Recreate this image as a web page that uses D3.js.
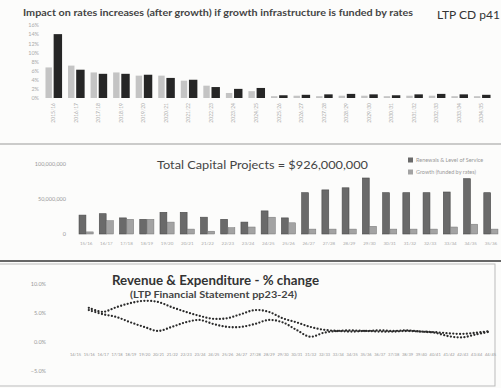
<!DOCTYPE html>
<html>
<head>
<meta charset="utf-8">
<script src="https://cdn.jsdelivr.net/npm/d3@7"></script>
<style>
  body { margin: 0; background: #fff; }
  svg { display: block; font-family: Lato, "Open Sans", sans-serif; }
</style>
</head>
<body>
<div id="chart"></div>
<script>
var width = 501;
var height = 388;

// top chart - rates increase per year
var rateYears = ["2015/16", "2016/17", "2017/18", "2018/19", "2019/20", "2020/21", "2021/22",
  "2022/23", "2023/24", "2024/25", "2025/26", "2026/27", "2027/28", "2028/29", "2029/30",
  "2030/31", "2031/32", "2032/33", "2033/34", "2034/35"];
var ratesBase = [6.7, 7.1, 5.6, 5.6, 4.9, 4.9, 3.8, 2.7, 1.1, 1.5, 0.4, 0.5, 0.4, 0.5, 0.5,
  0.4, 0.5, 0.5, 0.4, 0.4];
var ratesGrowth = [14.0, 6.2, 5.3, 5.3, 5.1, 4.4, 4.0, 2.4, 2.0, 2.2, 0.6, 0.7, 0.8, 0.9, 0.8,
  0.6, 0.8, 0.9, 0.8, 0.7];
var rateTicks = [0, 2, 4, 6, 8, 10, 12, 14, 16];

// middle chart - capital projects ($m)
var capYears = ["15/16", "16/17", "17/18", "18/19", "19/20", "20/21", "21/22", "22/23", "23/24",
  "24/25", "25/26", "26/27", "27/28", "28/29", "29/30", "30/31", "31/32", "32/33", "33/34",
  "34/35", "35/36"];
var capTotal = [27, 29, 23, 21, 31, 31, 24, 21, 17, 33, 23, 59, 63, 66, 80, 59, 59, 59, 60, 79, 59];
var capGrowth = [3, 19, 21, 21, 17, 7, 4, 9, 10, 24, 16, 7, 7, 7, 11, 7, 7, 7, 10, 14, 7];
var capTicks = [0, 50, 100];
var capLegend = ["Renewals & Level of Service", "Growth (funded by rates)"];

// bottom chart - % change
var finYears = ["14/15", "15/16", "16/17", "17/18", "18/19", "19/20", "20/21", "21/22", "22/23",
  "23/24", "24/25", "25/26", "26/27", "27/28", "28/29", "29/30", "30/31", "31/32", "32/33",
  "33/34", "34/35", "35/36", "36/37", "37/38", "38/39", "39/40", "40/41", "41/42", "42/43",
  "43/44", "44/45"];
var revenueChange = [null, 5.9, 5.2, 6.0, 6.7, 7.1, 6.9, 6.0, 5.2, 4.5, 4.0, 4.1, 4.8, 5.5, 5.2,
  4.1, 3.4, 2.6, 2.1, 1.9, 1.8, 1.9, 1.8, 1.8, 1.9, 1.8, 1.7, 1.5, 1.4, 1.6, 1.9];
var expenditureChange = [null, 5.5, 4.8, 4.3, 3.4, 2.6, 1.9, 2.6, 3.4, 3.8, 3.1, 2.6, 2.6, 3.1, 3.8,
  3.4, 2.1, 0.9, 1.6, 1.9, 2.0, 1.9, 2.0, 1.9, 2.0, 1.8, 1.6, 1.0, 0.8, 1.3, 1.8];
var finTicks = [-5, 0, 5, 10];

var svg = d3.select("#chart")
  .append("svg")
  .attr("width", width)
  .attr("height", height);

svg.append("rect")
  .attr("width", width)
  .attr("height", height)
  .attr("fill", "#fcfcfb");

/* ---------- top chart ---------- */
svg.append("text")
  .attr("x", 23).attr("y", 16)
  .attr("font-size", 8.5).attr("font-weight", "bold").attr("fill", "#444")
  .attr("textLength", 390).attr("lengthAdjust", "spacingAndGlyphs")
  .text("Impact on rates increases (after growth) if growth infrastructure is funded by rates");

svg.append("text")
  .attr("x", 437).attr("y", 19)
  .attr("font-size", 12).attr("fill", "#333")
  .text("LTP CD p41");

var xTop = d3.scaleBand().domain(rateYears).range([42, 493]).paddingInner(0.22).paddingOuter(0.11);
var xTopInner = d3.scaleBand().domain(["base", "growth"]).range([0, xTop.bandwidth()]).paddingInner(0.08);
var yTop = d3.scaleLinear().domain([0, 16]).range([98, 25]);

var topGroups = svg.append("g").selectAll("g")
  .data(rateYears)
  .join("g")
  .attr("transform", function(d) { return "translate(" + xTop(d) + ",0)"; });

topGroups.append("rect")
  .attr("x", xTopInner("base") + 1)
  .attr("width", xTopInner.bandwidth() - 2)
  .attr("y", function(d, i) { return yTop(ratesBase[i]); })
  .attr("height", function(d, i) { return yTop(0) - yTop(ratesBase[i]); })
  .attr("fill", "#c4c4c4");

topGroups.append("rect")
  .attr("x", xTopInner("growth"))
  .attr("width", xTopInner.bandwidth())
  .attr("y", function(d, i) { return yTop(ratesGrowth[i]); })
  .attr("height", function(d, i) { return yTop(0) - yTop(ratesGrowth[i]); })
  .attr("fill", "#262626");

var topYAxis = svg.append("g")
  .attr("transform", "translate(42,0)")
  .call(d3.axisLeft(yTop).tickValues(rateTicks).tickFormat(function(d) { return d + "%"; }).tickSize(0).tickPadding(3));
topYAxis.select(".domain").remove();
topYAxis.selectAll("text").attr("font-size", 5.5).attr("fill", "#aaa").attr("font-family", "Lato");

var topXAxis = svg.append("g")
  .attr("transform", "translate(0,99)")
  .call(d3.axisBottom(xTop).tickSize(0));
topXAxis.select(".domain").remove();
topXAxis.selectAll("text")
  .attr("y", 0).attr("x", -4).attr("dy", "0.35em")
  .attr("transform", "rotate(-90)")
  .style("text-anchor", "end")
  .attr("font-size", 5).attr("fill", "#aaa").attr("font-family", "Lato");

/* separator */
svg.append("line")
  .attr("x1", 0).attr("x2", width).attr("y1", 144).attr("y2", 144)
  .attr("stroke", "#999").attr("stroke-width", 1.2);

/* ---------- middle chart ---------- */
svg.append("text")
  .attr("x", 157).attr("y", 169)
  .attr("font-size", 11.5).attr("fill", "#444")
  .attr("textLength", 211).attr("lengthAdjust", "spacingAndGlyphs")
  .text("Total Capital Projects = $926,000,000");

var xMid = d3.scaleBand().domain(capYears).range([76, 501]).paddingInner(0.3).paddingOuter(0.15);
var xMidInner = d3.scaleBand().domain(["total", "growth"]).range([0, xMid.bandwidth()]).paddingInner(0.06);
var yMid = d3.scaleLinear().domain([0, 100]).range([234, 164]);

var midGroups = svg.append("g").selectAll("g")
  .data(capYears)
  .join("g")
  .attr("transform", function(d) { return "translate(" + xMid(d) + ",0)"; });

midGroups.append("rect")
  .attr("x", xMidInner("total"))
  .attr("width", xMidInner.bandwidth())
  .attr("y", function(d, i) { return yMid(capTotal[i]); })
  .attr("height", function(d, i) { return yMid(0) - yMid(capTotal[i]); })
  .attr("fill", "#6a6a6a")
  .attr("stroke", "#4a4a4a").attr("stroke-width", 0.6);

midGroups.append("rect")
  .attr("x", xMidInner("growth"))
  .attr("width", xMidInner.bandwidth())
  .attr("y", function(d, i) { return yMid(capGrowth[i]); })
  .attr("height", function(d, i) { return yMid(0) - yMid(capGrowth[i]); })
  .attr("fill", "#a3a3a3")
  .attr("stroke", "#777").attr("stroke-width", 0.5);

var midYAxis = svg.append("g")
  .attr("transform", "translate(70,0)")
  .call(d3.axisLeft(yMid).tickValues(capTicks).tickFormat(function(d) { return d3.format(",")(d * 1e6); }).tickSize(0).tickPadding(4));
midYAxis.select(".domain").remove();
midYAxis.selectAll("text").attr("font-size", 5.5).attr("fill", "#999").attr("font-family", "Lato");

var midXAxis = svg.append("g")
  .attr("transform", "translate(0,236)")
  .call(d3.axisBottom(xMid).tickSize(0).tickPadding(6));
midXAxis.select(".domain").remove();
midXAxis.selectAll("text").attr("font-size", 4.5).attr("fill", "#aaa").attr("font-family", "Lato");

var legend = svg.append("g").selectAll("g")
  .data(capLegend)
  .join("g")
  .attr("transform", function(d, i) { return "translate(408," + (160 + i * 12) + ")"; });
legend.append("rect")
  .attr("x", 0).attr("y", -2.5).attr("width", 5).attr("height", 5)
  .attr("fill", function(d, i) { return i === 0 ? "#6a6a6a" : "#a3a3a3"; });
legend.append("text")
  .attr("x", 8).attr("dy", "0.35em")
  .attr("font-size", 5.5).attr("fill", "#999")
  .text(function(d) { return d; });

/* ---------- bottom chart ---------- */
svg.append("line")
  .attr("x1", 0).attr("x2", width).attr("y1", 261).attr("y2", 261)
  .attr("stroke", "#666").attr("stroke-width", 2);
svg.append("rect")
  .attr("x", -1).attr("y", 264).attr("width", 496).attr("height", 122)
  .attr("fill", "none").attr("stroke", "#bbb").attr("stroke-width", 1);

svg.append("text")
  .attr("x", 112).attr("y", 285)
  .attr("font-size", 14).attr("font-weight", "bold").attr("fill", "#333")
  .attr("textLength", 207).attr("lengthAdjust", "spacingAndGlyphs")
  .text("Revenue & Expenditure - % change");

svg.append("text")
  .attr("x", 130).attr("y", 298)
  .attr("font-size", 10).attr("font-weight", "bold").attr("fill", "#444")
  .attr("textLength", 167).attr("lengthAdjust", "spacingAndGlyphs")
  .text("(LTP Financial Statement pp23-24)");

var xBot = d3.scalePoint().domain(finYears).range([75, 490]);
var yBot = d3.scaleLinear().domain([-5, 10]).range([371, 284]);

var botYAxis = svg.append("g")
  .attr("transform", "translate(50,0)")
  .call(d3.axisLeft(yBot).tickValues(finTicks).tickFormat(function(d) { return d3.format(".1f")(d) + "%"; }).tickSize(0).tickPadding(4));
botYAxis.select(".domain").remove();
botYAxis.selectAll("text").attr("font-size", 5.5).attr("fill", "#999").attr("font-family", "Lato");

var botXAxis = svg.append("g")
  .attr("transform", "translate(0," + yBot(0) + ")")
  .call(d3.axisBottom(xBot).tickSize(0).tickPadding(11));
botXAxis.select(".domain").remove();
botXAxis.selectAll("text").attr("font-size", 4).attr("fill", "#999").attr("font-family", "Lato");

var line = d3.line()
  .defined(function(d) { return d[1] !== null; })
  .x(function(d) { return xBot(d[0]); })
  .y(function(d) { return yBot(d[1]); })
  .curve(d3.curveCatmullRom);

[revenueChange, expenditureChange].forEach(function(series) {
  svg.append("path")
    .datum(finYears.map(function(y, i) { return [y, series[i]]; }))
    .attr("d", line)
    .attr("fill", "none")
    .attr("stroke", "#2a2a2a")
    .attr("stroke-width", 2.3)
    .attr("stroke-linecap", "round")
    .attr("stroke-dasharray", "0 3.4");
});
</script>
</body>
</html>
